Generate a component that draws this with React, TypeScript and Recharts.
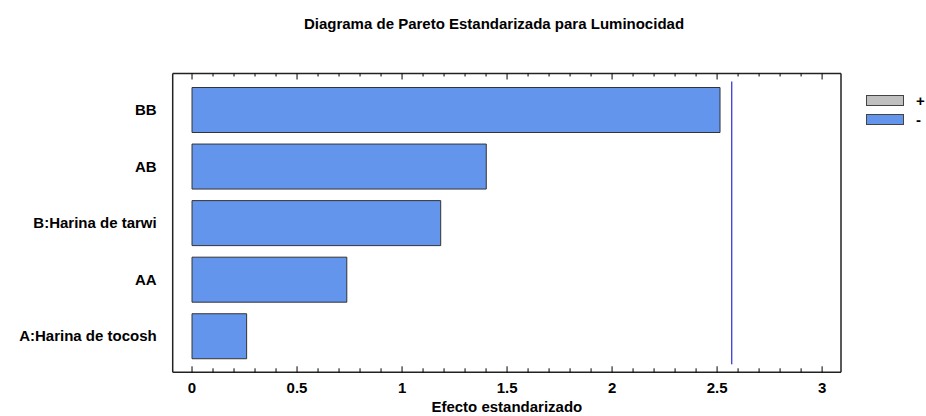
import React from 'react';
import { BarChart, Bar, XAxis, YAxis, ReferenceLine, Legend } from 'recharts';

const factors = ['BB', 'AB', 'B:Harina de tarwi', 'AA', 'A:Harina de tocosh'];
const effects = [2.514, 1.401, 1.184, 0.737, 0.26];
const signs = ['-', '-', '-', '-', '-'];
const criticalValue = 2.57;
const majorTicks = [0, 0.5, 1, 1.5, 2, 2.5, 3];
const minorTicks = [
  0.1, 0.2, 0.3, 0.4, 0.6, 0.7, 0.8, 0.9, 1.1, 1.2, 1.3, 1.4, 1.6, 1.7, 1.8, 1.9,
  2.1, 2.2, 2.3, 2.4, 2.6, 2.7, 2.8, 2.9,
];

const data = factors.map((name, i) => ({
  name,
  plus: signs[i] === '+' ? effects[i] : 0,
  minus: signs[i] === '-' ? effects[i] : 0,
}));

const allTicks = [...majorTicks, ...minorTicks].sort((a, b) => a - b);
const domain: [number, number] = [-0.092, 3.09];
const font = '"Liberation Sans", Arial, sans-serif';

const BottomTick = (props: any) => {
  const { x, y, payload } = props;
  const major = majorTicks.includes(payload.value);
  return (
    <g>
      <line x1={x} x2={x} y1={y} y2={y - (major ? 6 : 4)} stroke="#000" />
      {major && (
        <text x={x} y={y + 20.4} textAnchor="middle" fontSize={15} fontWeight="bold" fill="#000" fontFamily={font}>
          {payload.value}
        </text>
      )}
    </g>
  );
};

const TopTick = (props: any) => {
  const { x, y, payload } = props;
  const major = majorTicks.includes(payload.value);
  return <line x1={x} x2={x} y1={y} y2={y + (major ? 6 : 3)} stroke="#000" />;
};

const LegendContent = (props: any) => (
  <div style={{ fontFamily: font }}>
    {(props.payload || []).map((e: any) => (
      <div key={e.value} style={{ display: 'flex', alignItems: 'center', height: 18.6 }}>
        <span
          style={{
            width: 36,
            height: 9,
            background: e.color,
            border: '1.5px solid #444',
            display: 'inline-block',
          }}
        />
        <span style={{ marginLeft: 12, fontWeight: 'bold', fontSize: 15, color: '#000' }}>{e.value}</span>
      </div>
    ))}
  </div>
);

const RefShape = (p: any) => {
  const top = Math.min(p.y1, p.y2) + 8;
  const bottom = Math.max(p.y1, p.y2) - 8;
  return <line x1={p.x1} x2={p.x2} y1={top} y2={bottom} stroke="#0000cc" strokeWidth={1} />;
};

const App = () => {
  return (
    <div
      style={{
        position: 'fixed',
        left: 0,
        top: 0,
        width: 926,
        height: 416,
        background: '#fff',
        fontFamily: font,
      }}
    >
      <div
        style={{
          position: 'absolute',
          left: 494,
          top: 15.6,
          transform: 'translateX(-50%)',
          whiteSpace: 'nowrap',
          fontSize: 15,
          lineHeight: '15px',
          fontWeight: 'bold',
          color: '#000',
        }}
      >
        Diagrama de Pareto Estandarizada para Luminocidad
      </div>
      <BarChart
        width={926}
        height={416}
        data={data}
        layout="vertical"
        margin={{ top: 72.5, right: 84, bottom: 0, left: 0 }}
      >
        <XAxis
          xAxisId="top"
          orientation="top"
          type="number"
          domain={domain}
          allowDataOverflow
          ticks={allTicks}
          tick={<TopTick />}
          tickLine={false}
          tickSize={0}
          tickMargin={0}
          height={1}
          axisLine={{ stroke: '#222', strokeWidth: 1.5 }}
          interval={0}
        />
        <XAxis
          xAxisId="bottom"
          orientation="bottom"
          type="number"
          domain={domain}
          allowDataOverflow
          ticks={allTicks}
          tick={<BottomTick />}
          tickLine={false}
          tickSize={0}
          tickMargin={0}
          height={43.7}
          interval={0}
          axisLine={{ stroke: '#222', strokeWidth: 1.5 }}
          label={{
            value: 'Efecto estandarizado',
            position: 'insideBottom',
            offset: 4.5,
            fill: '#000',
            fontSize: 15,
            fontWeight: 'bold',
          }}
        />
        <YAxis
          yAxisId="left"
          type="category"
          dataKey="name"
          width={172.7}
          padding={{ top: 8, bottom: 8 }}
          tickLine={false}
          tickSize={0}
          tickMargin={16}
          axisLine={{ stroke: '#222', strokeWidth: 1.5 }}
          tick={{ fill: '#000', fontSize: 15, fontWeight: 'bold' }}
        />
        <YAxis
          yAxisId="right"
          orientation="right"
          type="number"
          domain={[0, 1]}
          width={1}
          tick={false}
          tickLine={false}
          axisLine={{ stroke: '#222', strokeWidth: 1.5 }}
        />
        <Legend
          layout="horizontal"
          align="center"
          verticalAlign="middle"
          wrapperStyle={{ left: 866, top: 91.4, width: 60 }}
          content={LegendContent}
        />
        <Bar
          xAxisId="bottom"
          yAxisId="left"
          dataKey="plus"
          name="+"
          stackId="e"
          fill="#c0c0c0"
          stroke="#333"
          strokeWidth={1}
          barSize={45}
          isAnimationActive={false}
        />
        <Bar
          xAxisId="bottom"
          yAxisId="left"
          dataKey="minus"
          name="-"
          stackId="e"
          fill="#6495ed"
          stroke="#333"
          strokeWidth={1}
          barSize={45}
          isAnimationActive={false}
        />
        <ReferenceLine
          xAxisId="bottom"
          yAxisId="left"
          x={criticalValue}
          stroke="#0000cc"
          shape={RefShape}
        />
      </BarChart>
    </div>
  );
};

export default App;
